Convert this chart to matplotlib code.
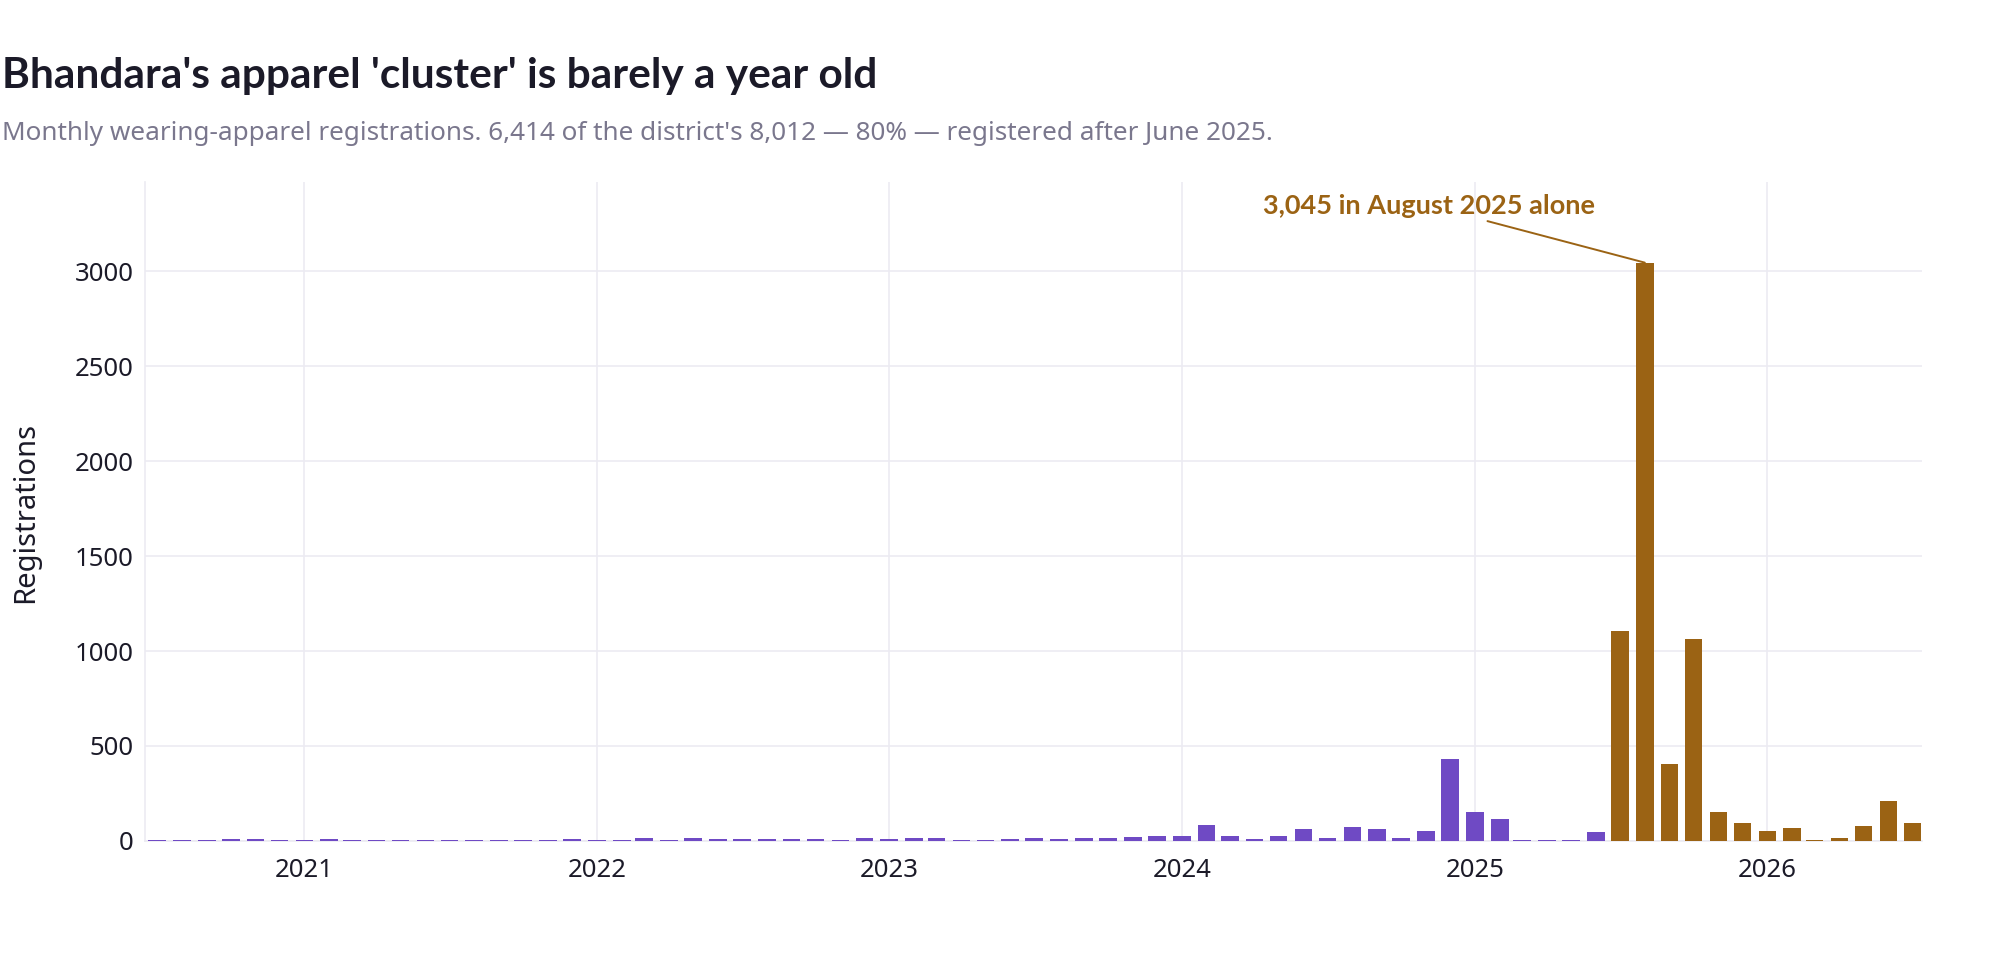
import pandas as pd
import matplotlib
matplotlib.use("Agg")
import matplotlib.pyplot as plt
import matplotlib.dates as mdates

plt.rcParams['font.family'] = ['Noto Sans', 'DejaVu Sans']
BOLD_FONT = ['Lato', 'DejaVu Sans']

# monthly wearing-apparel registrations, Jul 2020 .. Jul 2026
months = pd.date_range('2020-07-01', '2026-07-01', freq='MS')
regs_2020 = [3, 3, 3, 11, 11, 6]                                  # Jul-Dec
regs_2021 = [6, 11, 6, 3, 3, 4, 3, 6, 3, 3, 3, 9]
regs_2022 = [3, 3, 13, 3, 13, 8, 9, 8, 11, 8, 3, 15]
regs_2023 = [8, 17, 13, 3, 3, 8, 13, 10, 17, 13, 20, 26]
regs_2024 = [27, 85, 27, 10, 27, 65, 15, 75, 65, 16, 50, 433]
regs_2025 = [153, 115, 4, 6, 6, 47, 1103, 3045, 403, 1063, 152, 92]
regs_2026 = [50, 69, 4, 15, 78, 213, 96]                          # Jan-Jul
regs = regs_2020 + regs_2021 + regs_2022 + regs_2023 + regs_2024 + regs_2025 + regs_2026

cutoff = pd.Timestamp('2025-07-01')
peak_month = pd.Timestamp('2025-08-01')
peak_value = 3045

PURPLE = '#6F4AC4'
BROWN = '#9B6314'
GRID = '#ECEBF2'
INK = '#1B1A28'
GREY = '#7A778D'

colors = [BROWN if m >= cutoff else PURPLE for m in months]

fig = plt.figure(figsize=(20, 9.6), dpi=100)
ax = fig.add_axes([0.0725, 0.124, 0.8885, 0.6865])

ax.bar(months, regs, width=22, color=colors, linewidth=0, zorder=3)

ax.set_xlim(pd.Timestamp('2020-06-16'), pd.Timestamp('2026-07-13'))
ax.set_ylim(0, 3470)

ax.xaxis.set_major_locator(mdates.YearLocator())
ax.xaxis.set_major_formatter(mdates.DateFormatter('%Y'))
ax.set_yticks([0, 500, 1000, 1500, 2000, 2500, 3000])

ax.grid(True, color=GRID, linewidth=1.2, zorder=0)
for side in ['top', 'right']:
    ax.spines[side].set_visible(False)
for side in ['left', 'bottom']:
    ax.spines[side].set_color(GRID)
    ax.spines[side].set_linewidth(1.2)
ax.tick_params(axis='both', length=0, labelsize=18.5, labelcolor=INK)
ax.tick_params(axis='y', pad=8)
ax.tick_params(axis='x', pad=12)

ax.annotate('3,045 in August 2025 alone', xy=(peak_month, peak_value),
            xytext=(-216, 57), textcoords='offset pixels',
            ha='center', va='center', fontsize=19.5, fontweight='bold',
            family=BOLD_FONT, color=BROWN,
            arrowprops=dict(arrowstyle='-', color=BROWN, lw=1.4,
                            shrinkA=2, shrinkB=0))

fig.text(0.001, 1 - 88 / 960, "Bhandara's apparel 'cluster' is barely a year old",
         fontsize=30.5, fontweight='bold', family=BOLD_FONT, color=INK,
         va='baseline', ha='left')
fig.text(0.001, 1 - 140 / 960,
         "Monthly wearing-apparel registrations. 6,414 of the district's 8,012 \u2014 80% \u2014 registered after June 2025.",
         fontsize=18.8, color=GREY, va='baseline', ha='left')
fig.text(0.013, 1 - 512 / 960, 'Registrations', rotation=90, fontsize=21,
         color=INK, va='center', ha='center')

fig.savefig('out.png', dpi=100, facecolor='white')
